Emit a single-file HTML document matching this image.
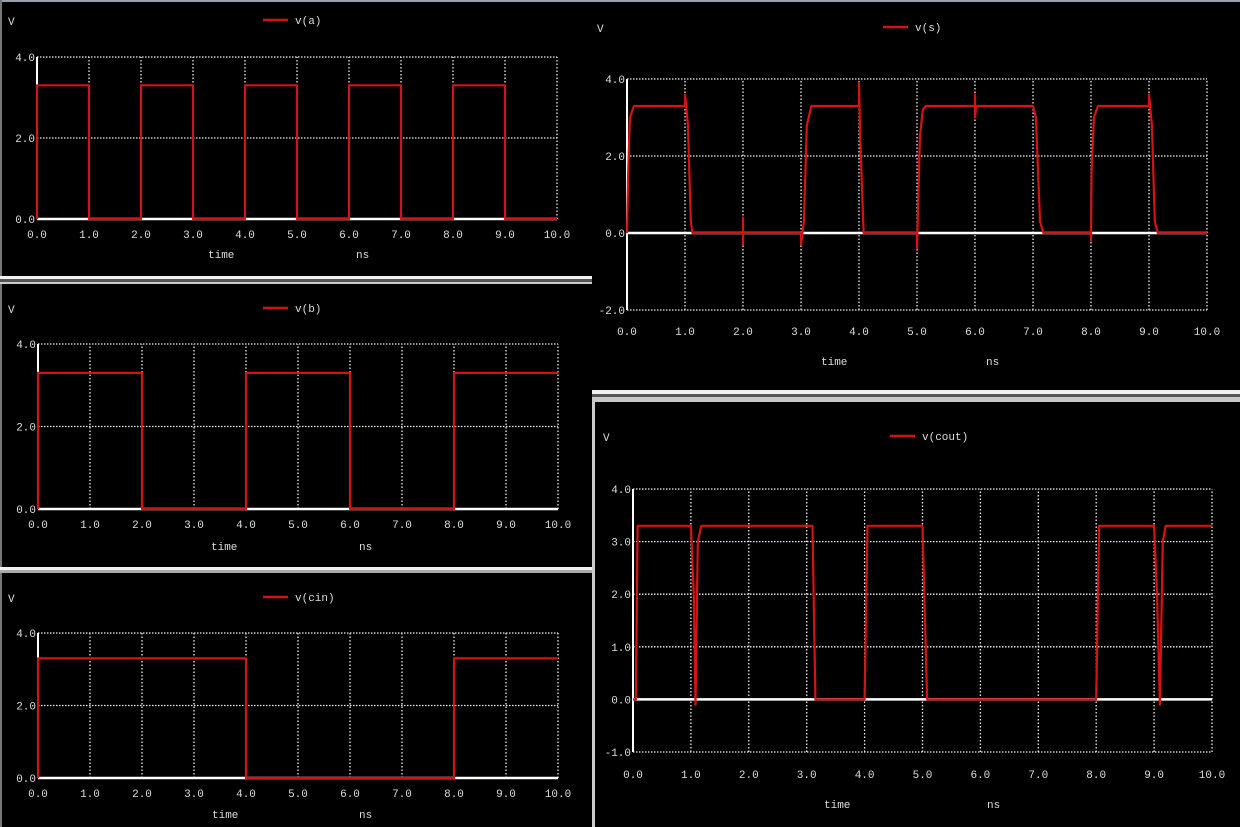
<!DOCTYPE html>
<html><head><meta charset="utf-8"><style>
html,body{margin:0;padding:0;background:#000;width:1240px;height:827px;overflow:hidden}
svg{display:block}
text{font-family:"Liberation Mono","DejaVu Sans Mono",monospace;fill:#ddd;font-size:11px}
</style></head><body>
<svg id="c" width="1240" height="827" viewBox="0 0 1240 827">
<rect x="0" y="0" width="1240" height="827" fill="#000"/>
<rect x="0" y="0" width="1240" height="2" fill="#9aa0b0"/>
<rect x="0" y="0" width="2" height="827" fill="#777"/>
<rect x="0" y="276" width="592" height="3" fill="#f2f2f2"/>
<rect x="0" y="279" width="592" height="3" fill="#555"/>
<rect x="0" y="282" width="592" height="2" fill="#ccc"/>
<rect x="0" y="567" width="592" height="3" fill="#f2f2f2"/>
<rect x="0" y="570" width="592" height="3" fill="#aaa"/>
<rect x="592" y="390" width="648" height="4" fill="#f2f2f2"/>
<rect x="592" y="394" width="648" height="3" fill="#555"/>
<rect x="592" y="397" width="648" height="5" fill="#c8c8c8"/>
<rect x="592" y="402" width="3" height="425" fill="#ccc"/>
<g id="plots"></g>
</svg>
<script>
// data arrays
const aT=[0,0,1,1,2,2,3,3,4,4,5,5,6,6,7,7,8,8,9,9,10];
const aV=[0,3.3,3.3,0,0,3.3,3.3,0,0,3.3,3.3,0,0,3.3,3.3,0,0,3.3,3.3,0,0];
const bT=[0,0,2,2,4,4,6,6,8,8,10];
const bV=[0,3.3,3.3,0,0,3.3,3.3,0,0,3.3,3.3];
const cinT=[0,0,4,4,8,8,10];
const cinV=[0,3.3,3.3,0,0,3.3,3.3];
const sT=[0,0.02,0.05,0.12,1.0,1.0,1.02,1.05,1.1,1.13,2.0,2.0,2.0,2.0,3.0,3.0,3.05,3.1,3.18,4.0,4.0,4.02,4.08,5.0,5.0,5.05,5.1,5.15,6.0,6.0,6.0,6.02,7.0,7.05,7.12,7.18,8.0,8.0,8.01,8.05,8.12,9.0,9.0,9.05,9.1,9.15,10];
const sV=[0,1.6,3.0,3.3,3.3,3.6,3.3,2.8,0.3,0,0,0.4,-0.3,0,0,-0.3,0.3,2.8,3.3,3.3,3.9,2.5,0,0,-0.4,2.5,3.2,3.3,3.3,3.6,3.0,3.3,3.3,3.0,0.3,0,0,-0.2,1.6,3.0,3.3,3.3,3.6,2.8,0.3,0,0];
const coT=[0,0.05,0.08,1.0,1.05,1.08,1.12,1.18,3.1,3.15,4.0,4.05,5.0,5.08,8.0,8.05,9.0,9.05,9.1,9.15,9.2,10];
const coV=[0,0,3.3,3.3,2.0,-0.1,3.0,3.3,3.3,0,0,3.3,3.3,0,0,3.3,3.3,2.0,-0.1,3.0,3.3,3.3];
const xTicks=[0,1,2,3,4,5,6,7,8,9,10];
const xTickLabels=["0.0","1.0","2.0","3.0","4.0","5.0","6.0","7.0","8.0","9.0","10.0"];

const NS="http://www.w3.org/2000/svg";
const G=document.getElementById('plots');
function mk(tag,attrs,parent){const e=document.createElementNS(NS,tag);for(const k in attrs)e.setAttribute(k,attrs[k]);(parent||G).appendChild(e);return e;}

function plot(cfg){
  const g=mk('g',{});
  
  
  const X=t=>cfg.x0+(t-0)/10*(cfg.x1-cfg.x0);
  const Y=v=>cfg.yBot+(v-cfg.ymin)/(cfg.ymax-cfg.ymin)*(cfg.yTop-cfg.yBot);
  // grid
  xTicks.forEach((t,i)=>{
    if(i>0){const l=mk('line',{x1:X(t),x2:X(t),y1:Y(cfg.ymin),y2:Y(cfg.ymax),stroke:'#eee','stroke-width':1.3,'stroke-dasharray':'1.5,2'},g);
    
    }
    const tx=mk('text',{x:X(t),y:cfg.labY,'text-anchor':'middle'},g);tx.textContent=xTickLabels[i];
    
    
  });
  cfg.yTicks.forEach((v,i)=>{
    if(v!==0){const l=mk('line',{x1:X(0),x2:X(10),y1:Y(v),y2:Y(v),stroke:'#eee','stroke-width':1.3,'stroke-dasharray':'1.5,1.5'},g);
    
    }
    const tx=mk('text',{x:X(0)-2,y:Y(v)+4,'text-anchor':'end'},g);tx.textContent=cfg.yLabels[i];
    
    
  });
  const z=mk('line',{x1:X(0),x2:X(10),y1:Y(0),y2:Y(0),stroke:'#fff','stroke-width':2.5},g);
  
  
  const ya=mk('line',{x1:X(0),x2:X(0),y1:Y(cfg.ymin),y2:Y(cfg.ymax),stroke:'#fff','stroke-width':2},g);
  
  
  const pts=cfg.t.map((t,i)=>X(t).toFixed(1)+','+Y(cfg.v[i]).toFixed(1)).join(' ');
  const pl=mk('polyline',{points:pts,fill:'none',stroke:'#d41414','stroke-width':2.2,'stroke-linejoin':'round'},g);
  
  
  // legend
  const ll=mk('line',{x1:cfg.legX,x2:cfg.legX+25,y1:cfg.legY,y2:cfg.legY,stroke:'#d41414','stroke-width':2.5},g);
  
  
  const lt=mk('text',{x:cfg.legX+32,y:cfg.legY+4},g);lt.textContent=cfg.label;
  
  
  const vl=mk('text',{x:cfg.vX,y:cfg.vY},g);vl.textContent='V';
  
  
  const tl=mk('text',{x:cfg.timeX,y:cfg.timeY},g);tl.textContent='time';
  
  
  const nl=mk('text',{x:cfg.nsX,y:cfg.timeY},g);nl.textContent='ns';
  
  
}
plot({name:'plot-va',label:'v(a)',t:aT,v:aV,x0:37,x1:557,yTop:57,yBot:219,ymin:0,ymax:4,yTicks:[0,2,4],yLabels:['0.0','2.0','4.0'],labY:238,legX:263,legY:20,vX:8,vY:25,timeX:208,timeY:258,nsX:356});
plot({name:'plot-vb',label:'v(b)',t:bT,v:bV,x0:38,x1:558,yTop:344,yBot:509,ymin:0,ymax:4,yTicks:[0,2,4],yLabels:['0.0','2.0','4.0'],labY:528,legX:263,legY:308,vX:8,vY:313,timeX:211,timeY:550,nsX:359});
plot({name:'plot-vcin',label:'v(cin)',t:cinT,v:cinV,x0:38,x1:558,yTop:633,yBot:778,ymin:0,ymax:4,yTicks:[0,2,4],yLabels:['0.0','2.0','4.0'],labY:797,legX:263,legY:597,vX:8,vY:602,timeX:212,timeY:818,nsX:359});
plot({name:'plot-vs',label:'v(s)',t:sT,v:sV,x0:627,x1:1207,yTop:79,yBot:310,ymin:-2,ymax:4,yTicks:[-2,0,2,4],yLabels:['-2.0','0.0','2.0','4.0'],labY:335,legX:883,legY:27,vX:597,vY:32,timeX:821,timeY:365,nsX:986});
plot({name:'plot-vcout',label:'v(cout)',t:coT,v:coV,x0:633,x1:1212,yTop:489,yBot:752,ymin:-1,ymax:4,yTicks:[-1,0,1,2,3,4],yLabels:['-1.0','0.0','1.0','2.0','3.0','4.0'],labY:778,legX:890,legY:436,vX:603,vY:441,timeX:824,timeY:808,nsX:987});
</script>
</body></html>
